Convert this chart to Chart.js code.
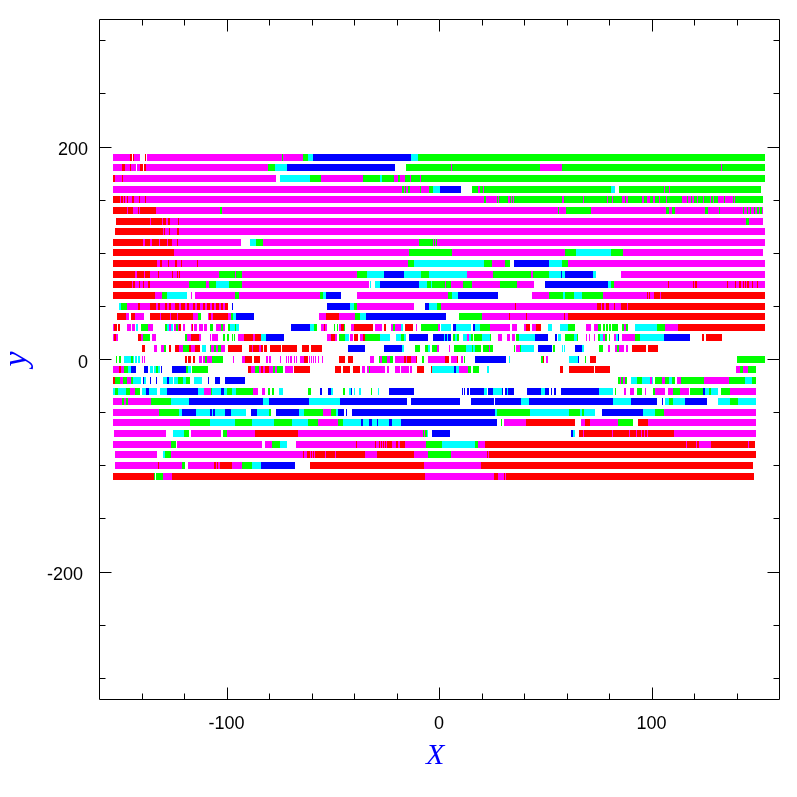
<!DOCTYPE html>
<html>
<head>
<meta charset="utf-8">
<title>X-y strips</title>
<script src="https://cdn.jsdelivr.net/npm/chart.js@4/dist/chart.umd.min.js"></script>
<style>
html, body { margin: 0; padding: 0; background: #fff; }
canvas { display: block; }
</style>
</head>
<body>
<canvas id="chart" width="797" height="797"></canvas>
<script>
// each row: x, category, x, category, ... x  (_ = no data)
const row190 = [-153.4,'M',-145.3,'R',-144.7,'_',-144.2,'R',-143.6,'M',-140.7,'_',-138.4,'R',-137.8,'_',-137.3,'M',-73.9,'G',-73.4,'M',-64,'G',-61.6,'C',-59.2,'B',-13.2,'C',-9.9,'G',153.4];
const row180 = [-153.4,'M',-149.2,'R',-147.9,'M',-145.4,'R',-145,'M',-142.6,'_',-142.1,'M',-140.7,'R',-139.3,'_',-138.8,'R',-137.9,'M',-80.3,'G',-77.2,'C',-71.6,'B',-20.7,'_',-15.6,'G',5.6,'M',6.1,'G',47.5,'M',57.9,'G',132.7,'M',133.2,'G',153.4];
const row170 = [-153.4,'R',-152.5,'M',-149.2,'R',-148.7,'M',-76.7,'_',-74.8,'C',-60.7,'G',-55.6,'M',-35.8,'G',-27.8,'C',-26.8,'G',-21.2,'M',-19.3,'G',-18.4,'M',-16,'G',-13.7,'M',-13.2,'G',-9,'M',-8.5,'G',153.4];
const row160 = [-153.4,'M',-17.6,'G',-16.7,'M',-16,'G',-15.5,'M',-14.8,'G',-13.8,'M',-9,'G',-8.5,'M',-4.7,'G',-2.8,'C',0.5,'B',10.4,'_',15.5,'G',18.5,'M',19.3,'G',20.7,'M',21.3,'G',81,'C',82.8,'_',84.7,'G',105.9,'M',106.4,'G',108.2,'M',108.7,'G',151.5];
const row150 = [-153.4,'R',-150.1,'M',-149.7,'R',-148.7,'M',-148.3,'R',-147.8,'M',-146.8,'R',-146.4,'M',-144.5,'R',-143.5,'M',-141.2,'R',-140.7,'M',-138.4,'R',-137.9,'M',21.3,'G',22.3,'M',27.1,'G',27.6,'M',28.2,'G',32.6,'M',33.4,'G',33.9,'M',34.4,'G',34.8,'M',35.3,'G',57.9,'M',58.8,'G',67.8,'M',68.2,'G',79,'M',79.5,'G',81.4,'M',81.9,'G',86.1,'M',87.5,'G',88,'M',89,'G',95.5,'M',96.5,'G',97.9,'M',99.3,'G',100.7,'M',101.6,'G',103.5,'M',104,'G',106.8,'M',107.3,'G',114.4,'M',116.7,'G',117.3,'M',118.6,'G',119,'M',120,'G',121.4,'M',121.9,'G',124.2,'M',124.7,'G',127.5,'M',128,'G',129,'M',129.4,'G',131.3,'M',134.1,'G',134.6,'M',138.4,'G',138.8,'M',139.2,'G',152.5];
const row140 = [-153.4,'R',-146.8,'M',-146.4,'R',-144,'M',-141.7,'R',-141.2,'M',-140.7,'R',-133.2,'M',-103.1,'G',-102.1,'M',56,'G',56.5,'M',59.8,'G',71.5,'M',106.8,'G',108.2,'M',109.6,'G',111,'M',125.2,'G',126.7,'M',131.8,'G',132.2,'M',143.1,'G',143.5,'M',145,'G',145.4,'M',146.4,'G',146.8,'M',148.2,'G',148.7,'M',149.6,'G',150.6,'M',151,'G',152,'M',152.5];
const row130 = [-152,'R',-136,'M',-135.6,'R',-130.4,'M',-129.9,'R',-128.5,'M',-127.6,'R',-126.6,'M',-122.9,'R',-122.4,'M',144.5,'G',145.9,'M',152.5];
const row120 = [-152.5,'R',-129.9,'M',-129.4,'R',-129,'M',-127.1,'R',-126.6,'M',-123.3,'R',-122.4,'M',153.4];
const row110 = [-153.4,'R',-139.3,'M',-138.4,'R',-136,'M',-135,'R',-131.8,'M',-131.3,'R',-128,'M',-127.5,'R',-125.6,'M',-125.2,'R',-125.2,'M',-123.3,'R',-122.8,'M',-93.2,'_',-89,'C',-86.1,'G',-82.8,'M',-9.4,'G',-2.8,'M',-2.4,'G',-1.9,'M',-1.4,'G',-0.9,'M',153.4];
const row100 = [-153.4,'R',-124.7,'M',-14.1,'G',6.1,'M',59.3,'G',64.5,'C',81,'G',86.6,'M',152.5];
const row90 = [-153.4,'R',-132.7,'M',-131.3,'R',-130.4,'M',-127.6,'R',-127.1,'M',-124.3,'R',-123.3,'M',-121.4,'R',-121,'M',-113.9,'R',-113.4,'M',-14.6,'G',-11.8,'C',21.2,'G',25,'M',31.1,'G',33.6,'_',35.3,'B',51.8,'C',57.9,'G',60.7,'M',153.4];
const row80 = [-153.4,'R',-143,'M',-142.1,'R',-138.8,'M',-138.4,'R',-136,'M',-132.3,'R',-131.8,'M',-125.7,'R',-125.2,'M',-123.3,'R',-122.8,'M',-122.4,'R',-121.9,'M',-103.6,'G',-96,'M',-95.6,'G',-92.7,'M',-38.6,'G',-33.9,'C',-25.9,'B',-16.5,'C',-8.5,'G',-4.7,'C',13.2,'M',25.4,'G',43.3,'M',44.2,'G',51.8,'C',57.4,'B',57.9,'C',59.3,'B',72.5,'C',73.9,'_',85.7,'M',153.4];
const row70 = [-153.4,'R',-144.5,'M',-144,'R',-143,'M',-141.2,'R',-140.7,'M',-139.3,'R',-138.8,'M',-136.9,'R',-136,'M',-117.7,'G',-109.7,'M',-108.3,'G',-105,'C',-98.8,'G',-92.7,'M',-33,'_',-32.5,'C',-32,'_',-30.1,'C',-27.8,'B',-9.4,'C',-5.7,'G',-3.8,'C',-3.3,'G',2.8,'M',3.3,'G',5.6,'M',11.3,'G',15.5,'M',28.7,'G',36.7,'M',44.7,'_',49.9,'B',79.5,'C',81,'G',82.4,'M',107.8,'R',108.2,'M',119.5,'R',120,'M',120.5,'R',121.4,'M',135.5,'R',136,'M',139.3,'R',139.8,'M',141.2,'R',142.1,'M',143.1,'R',143.5,'M',144,'R',144.5,'M',145,'R',145.9,'M',147.3,'R',147.8,'M',149.6,'R',150.1,'M',153.4];
const row60 = [-153.4,'R',-133.7,'M',-130.4,'G',-128,'C',-118.6,'_',-116.7,'M',-116.3,'_',-114.8,'M',-96,'G',-94.1,'M',-56,'G',-54.6,'C',-53.2,'B',-46.1,'_',-38.6,'M',4.4,'G',6.1,'C',8.9,'B',27.8,'_',43.8,'M',51.8,'G',58.4,'C',59.3,'G',63.5,'C',67.3,'G',77.2,'M',97.9,'R',98.4,'M',98.8,'R',99.3,'M',101.2,'R',104,'M',104.5,'R',153.4];
const row50 = [-150.6,'C',-149.7,'G',-146.8,'M',-141.7,'R',-140.7,'M',-136,'R',-133.2,'M',-132.3,'R',-131.3,'M',-129,'R',-128,'M',-127.1,'R',-126.1,'M',-124.3,'R',-122.4,'M',-121.4,'R',-119.6,'M',-118.6,'R',-117.7,'M',-115.8,'R',-114.8,'M',-113.9,'R',-112.5,'M',-111.1,'R',-110.1,'M',-109.2,'R',-107.8,'M',-106.8,'R',-105.9,'M',-105,'R',-103.6,'M',-102.6,'R',-101.7,'M',-100.7,'R',-99.3,'_',-97.4,'B',-97,'_',-52.7,'B',-41.9,'C',-40,'G',-38.6,'M',-11.8,'_',-6.6,'B',-4.7,'C',-0.9,'G',0.9,'M',35.8,'R',36.2,'M',74.3,'R',76.2,'M',76.7,'R',77.6,'M',78.6,'R',80,'M',82.4,'R',82.8,'M',85.6,'R',88.5,'M',88.9,'R',153.4];
const row40 = [-151.6,'R',-147.3,'M',-145.9,'_',-145,'R',-143.1,'M',-138.8,'_',-136,'R',-131.3,'M',-130.9,'R',-126.6,'M',-126.1,'R',-123.5,'M',-123,'R',-115.8,'M',-113.4,'G',-112,'_',-108.7,'M',-108.3,'R',-107.3,'M',-106.4,'R',-99.3,'M',-97.9,'G',-97,'C',-95.6,'B',-87.1,'_',-56.5,'M',-53.2,'R',-47.1,'M',-39.6,'G',-37.2,'C',-34.4,'B',3.3,'_',9.4,'G',20.2,'M',33,'R',33.4,'M',40.9,'R',41.4,'M',58.8,'R',59.3,'M',60.7,'R',153.4];
const row30 = [-153.4,'M',-153,'R',-151.6,'_',-151.1,'R',-150.1,'_',-146.8,'M',-145,'_',-144.5,'M',-143.1,'_',-142.6,'C',-141.7,'_',-140.2,'G',-136.9,'M',-134.6,'_',-129,'G',-128,'C',-127.1,'M',-126.1,'C',-125.2,'_',-124.7,'M',-123.8,'G',-122.8,'M',-122.4,'R',-121.4,'_',-120.5,'M',-119.6,'_',-116.7,'M',-116.3,'R',-115.8,'_',-115.3,'M',-113.9,'_',-113,'M',-111.1,'_',-110.6,'M',-109.2,'_',-107.8,'G',-106.4,'_',-105,'M',-102.6,'G',-101.7,'M',-100.7,'_',-99.3,'G',-98.4,'C',-96,'G',-95.5,'C',-94.1,'_',-69.7,'B',-60.7,'C',-58.8,'G',-57.4,'_',-55.6,'M',-54.2,'R',-53.7,'M',-52.7,'_',-49.4,'G',-48.9,'_',-48,'G',-47.5,'_',-47,'M',-46.1,'R',-44.7,'G',-44.2,'_',-41.4,'M',-40,'R',-31,'_',-30.1,'M',-26.8,'_',-25.9,'R',-24.9,'_',-22.6,'M',-21.7,'G',-20.7,'M',-17.9,'C',-17,'_',-16,'R',-12.3,'_',-10.8,'M',-10.4,'_',-8.5,'G',-0.5,'M',0.5,'_',1,'C',5.6,'_',6.6,'B',8,'C',15,'_',16,'B',17,'C',19.3,'G',24,'M',33.4,'_',34.4,'M',36.7,'_',40,'M',40.9,'R',42.8,'_',43.8,'M',45.6,'R',48,'_',51.3,'C',53.2,'_',57,'C',60.7,'G',64,'_',69.2,'M',71.5,'_',73,'M',74.8,'G',76.2,'_',77.2,'G',78.1,'_',78.6,'G',79.5,'_',80,'G',81,'_',81.4,'G',84.2,'_',86.1,'G',87,'M',88,'G',89,'_',92.2,'C',102.6,'G',106.3,'M',112.5,'R',153.4];
const row20 = [-153.4,'M',-153,'R',-152,'M',-151.1,'_',-141.7,'R',-140.2,'M',-139.3,'G',-137.4,'G',-136,'_',-135,'M',-133.2,'_',-119.6,'G',-118.6,'M',-116.7,'R',-113,'M',-112,'_',-107.8,'M',-107.3,'_',-106.8,'M',-104,'_',-101.7,'G',-100.7,'_',-99.8,'G',-98.8,'_',-97.4,'G',-97,'_',-96.5,'G',-96,'_',-94.6,'M',-91.8,'R',-87.6,'M',-86.6,'R',-83.8,'C',-81.4,'B',-73,'_',-52.7,'M',-50.8,'R',-48.9,'M',-48,'_',-47,'G',-46.1,'G',-44.2,'C',-42.4,'_',-41.9,'M',-40.5,'_',-40,'R',-38.1,'_',-37.2,'M',-35.8,'R',-34.8,'G',-33,'G',-29.7,'G',-27.8,'C',-23.1,'_',-20.3,'C',-17.9,'G',-16.5,'C',-15.6,'_',-14.1,'B',-5.2,'_',-2.8,'B',2.3,'C',2.8,'B',3.8,'C',4.2,'B',5.6,'_',6.6,'G',7.5,'C',8.5,'G',9.4,'_',11.3,'C',13.2,'M',14.1,'C',15,'G',16,'_',16.5,'G',20.2,'C',24,'G',24.5,'_',27.9,'M',29.6,'_',32,'M',33.4,'_',34.4,'M',35.8,'_',36.2,'G',37.6,'C',45.2,'B',51.3,'_',54.6,'B',55.5,'_',56,'C',57.4,'_',59.3,'G',63.5,'C',65,'G',65.5,'_',69.2,'M',69.7,'_',70.6,'M',71,'_',73,'M',73.4,'_',74.8,'G',75.8,'C',77.2,'M',78.1,'G',79,'_',80,'G',80.5,'_',82.4,'M',83.3,'C',84.2,'B',84.7,'_',86.1,'M',92.2,'G',94.6,'C',105.9,'B',118.1,'_',123.8,'R',124.7,'_',125.6,'R',133.2];
const row10 = [-139.8,'R',-138.4,'_',-134.1,'M',-132.7,'_',-130.9,'M',-129.4,'G',-128.5,'_',-127.1,'R',-126.1,'_',-124.3,'R',-122.4,'M',-120.5,'G',-117.7,'R',-116.7,'M',-114.8,'R',-112.5,'_',-111.5,'C',-109.7,'_',-107.8,'G',-107.3,'M',-105.9,'G',-105,'M',-104,'G',-102.6,'M',-100.7,'_',-99.3,'R',-92.7,'_',-89.4,'R',-88,'M',-87.5,'R',-84.7,'M',-83.8,'R',-82.8,'_',-82.4,'R',-81,'_',-79.6,'R',-74.4,'_',-73.9,'R',-66.9,'_',-64.5,'R',-61.2,'_',-60.3,'R',-55.1,'_',-42.9,'B',-34.8,'_',-25.9,'B',-17.4,'C',-16.5,'_',-11.3,'G',-9,'_',-6.6,'G',-5.2,'C',-4.3,'_',-3.3,'G',-0.9,'M',0,'_',4.7,'M',5.2,'_',7,'G',12.7,'C',15.5,'G',16,'C',17,'G',19.8,'_',20.7,'G',23.5,'M',24,'G',25.4,'_',35.3,'G',35.8,'_',36.2,'M',38.1,'G',38.6,'C',44.7,'_',46.6,'B',53.2,'_',53.6,'G',54.6,'_',57.9,'C',58.4,'_',58.8,'C',59.3,'_',64,'B',67.3,'C',68.2,'_',75.3,'G',77.2,'_',79.5,'M',80.5,'_',82.8,'M',83.8,'G',84.7,'M',87,'_',88,'M',88.9,'_',90.8,'R',97.4,'_',98.4,'R',103];
const row0 = [-152,'G',-151.6,'_',-150.6,'G',-149.7,'_',-148.3,'C',-145,'G',-144,'C',-143.6,'_',-143.1,'C',-142.1,'_',-141.7,'C',-140.7,'_',-139.8,'M',-139.3,'_',-138.8,'M',-138.4,'_',-119.6,'R',-118.6,'_',-118.1,'R',-116.7,'_',-115.8,'R',-114.8,'_',-113,'M',-111.5,'_',-111.1,'M',-110.1,'G',-109.2,'M',-106.8,'G',-101.7,'_',-97,'M',-96.5,'_',-92.7,'M',-91.3,'R',-88,'_',-87.1,'R',-84.3,'_',-81.4,'M',-80.5,'_',-80,'M',-79,'_',-74.8,'M',-74.4,'_',-72,'M',-71.6,'_',-71.1,'M',-70.6,'_',-70.2,'M',-69.2,'_',-68.3,'M',-67.8,'_',-67.3,'M',-66.9,'_',-65.4,'M',-63.6,'R',-61.7,'_',-61.2,'M',-60.7,'_',-60.3,'M',-59.8,'_',-59.3,'M',-58.8,'_',-58.4,'M',-57.9,'_',-57,'M',-56.5,'_',-55.1,'M',-54.6,'_',-47,'R',-44.2,'_',-42.9,'R',-40.5,'_',-32.5,'M',-30.6,'_',-28.2,'G',-27.8,'M',-26.8,'G',-24.5,'M',-23.1,'G',-21.7,'_',-20.7,'M',-16.5,'R',-15.6,'M',-15.1,'R',-13.2,'M',-10.8,'R',-10.4,'_',-8,'G',-7.1,'_',-5.2,'M',2.8,'R',4.7,'_',5.6,'M',8.5,'R',8.9,'_',10.4,'M',11.3,'_',11.8,'G',12.2,'_',17,'B',31.5,'_',32.9,'C',33.4,'_',48,'G',49,'R',49.4,'_',50.4,'M',51.3,'_',61.2,'C',65.4,'B',65.9,'_',68.7,'G',69.2,'_',71,'R',73.9,'_',140.2,'G',153.4];
const rowm10 = [-153.4,'M',-150.6,'R',-149.7,'M',-148.3,'G',-146.4,'C',-145,'B',-142.6,'_',-138.8,'B',-136.9,'_',-136,'C',-134.6,'_',-134.1,'C',-133.2,'G',-132.3,'C',-131.3,'_',-130.9,'B',-130.4,'_',-125.7,'B',-119,'G',-118.1,'C',-116.7,'_',-116.3,'G',-108.7,'_',-89.9,'R',-88.5,'M',-86.6,'G',-84.7,'M',-83.8,'R',-82.8,'M',-81.9,'R',-80,'M',-78.1,'G',-77.2,'M',-76.3,'G',-73.4,'_',-72.5,'M',-68.8,'_',-68.3,'R',-60.7,'_',-48.9,'R',-46.1,'_',-45.2,'R',-41.9,'_',-40.5,'R',-37.2,'_',-36.3,'M',-34.8,'_',-33.9,'M',-33,'G',-32.5,'M',-25.4,'_',-24.5,'M',-23.6,'_',-20.7,'M',-18.4,'_',-17.9,'M',-14.1,'_',-13.7,'M',-12.7,'_',-10.4,'R',-7.1,'_',-3.8,'R',-3.3,'C',7,'B',8,'C',9.4,'M',13.6,'G',15,'_',16,'G',18.8,'_',22.6,'C',23.5,'_',57,'R',58.4,'_',61.2,'R',73,'_',73.4,'R',80.5,'_',139.8,'M',141.7,'G',143,'M',145.4,'G',149.2];
const rowm20 = [-153.4,'R',-152.5,'G',-150.1,'M',-148.7,'G',-146.8,'M',-145,'G',-144,'C',-140.2,'_',-139.3,'B',-138.8,'C',-137.9,'_',-136,'B',-135.6,'_',-133.2,'B',-132.7,'_',-129.9,'C',-128,'B',-127.1,'C',-125.2,'_',-124.7,'C',-122.8,'G',-120.5,'C',-119,'G',-117.2,'_',-115.3,'C',-111.5,'_',-108.7,'B',-108.3,'_',-105.4,'B',-103.1,'_',-100.7,'B',-91.3,'_',84.2,'G',85.2,'M',85.6,'G',86.6,'M',87.5,'G',88.5,'_',90.3,'C',93.2,'G',95.5,'C',99.3,'M',100,'C',100.7,'_',101.6,'G',104.9,'M',106.3,'G',108.2,'C',109.6,'G',111,'_',112,'M',113.9,'G',124.7,'M',136.5,'G',144,'C',147.3,'G',149.2];
const rowm30 = [-153.4,'C',-152.5,'G',-151,'C',-147.3,'G',-145.4,'M',-143.1,'G',-140.7,'_',-139.8,'C',-137.9,'B',-136.5,'C',-134.1,'_',-134.1,'C',-132.7,'_',-131.3,'C',-128,'B',-113.4,'C',-110.6,'M',-107.3,'G',-106.8,'C',-102.6,'B',-101.2,'C',-99.8,'G',-97.4,'C',-95.6,'G',-93.2,'G',-87.6,'M',-85.2,'_',-83.3,'M',-81.9,'_',-80.5,'G',-79.6,'_',-78.6,'G',-77.7,'_',-75.3,'C',-73.4,'_',-61.7,'G',-60.3,'_',-56,'B',-55.1,'_',-52.3,'B',-50.8,'C',-49.9,'_',-45.2,'G',-44.3,'_',-42.4,'C',-41.4,'B',-41,'_',-40,'C',-39.6,'_',-37.7,'C',-36.7,'_',-32,'G',-31.5,'_',-28.7,'C',-28.2,'_',-23.6,'B',-11.8,'_',10.8,'B',11.3,'_',11.8,'B',12.2,'_',13.2,'B',14.1,'_',14.6,'B',21.2,'C',22.6,'_',23,'B',25.4,'C',29.6,'B',30.1,'_',31,'B',32,'C',32.5,'B',35.3,'_',41.4,'B',48,'C',49.9,'B',51.8,'_',52.7,'B',53.2,'_',54.1,'B',55,'_',57.4,'B',75.3,'C',81.9,'_',82.8,'G',83.3,'_',87,'M',88,'_',89.9,'M',91.8,'_',93.2,'G',95.5,'_',97,'M',97.4,'_',100.7,'G',101.6,'M',106.3,'_',107.8,'M',110.1,'G',113.4,'M',117.6,'_',118.1,'G',124.2,'B',125.2,'C',127,'G',128,'C',131.3,'_',132.7,'G',137,'M',149.2];
const rowm40 = [-153.4,'M',-149.2,'G',-148.3,'M',-147.3,'G',-146.4,'M',-135.6,'G',-126.1,'C',-117.7,'B',-82.8,'C',-80,'B',-61.2,'C',-46.6,'B',-15.1,'_',-13.2,'B',9.9,'_',15,'B',25.9,'_',26.4,'B',38.6,'C',42.4,'B',81.9,'C',90.3,'B',102.6,'_',105,'B',105.4,'_',106.3,'C',108.2,'G',110.1,'C',115.8,'B',126.1,'_',131.3,'C',137,'G',140.7,'C',149.2];
const rowm50 = [-153.4,'M',-131.8,'G',-122.4,'C',-121,'B',-114.4,'C',-107.8,'B',-106.8,'C',-106.4,'B',-105.4,'C',-100.7,'B',-97.9,'C',-90.8,'_',-88.5,'B',-85.7,'C',-80,'G',-79.1,'_',-76.7,'B',-65.9,'C',-63.5,'G',-54.6,'M',-50.8,'G',-48.5,'C',-47.5,'B',-44.7,'_',-43.8,'B',-43.3,'_',-41,'B',26.4,'C',27.3,'G',42.8,'C',61.2,'G',66.3,'C',67.3,'G',68.2,'C',73.4,'_',76.7,'B',96,'C',101.6,'G',105.9,'M',149.2];
const rowm60 = [-153.4,'M',-117.2,'G',-107.8,'C',-96,'G',-88,'C',-77.7,'G',-69.2,'C',-61.7,'G',-57,'M',-47.5,'G',-45.2,'C',-36.7,'B',-35.8,'C',-33,'B',-31.5,'C',-29.2,'B',-28.7,'C',-23.6,'B',-22.2,'C',-17.9,'B',27.3,'_',29.2,'G',29.6,'_',30.6,'M',41,'R',64,'_',66.8,'M',68.7,'R',71,'M',84.2,'G',91.3,'_',93.7,'R',98.4,'M',149.2];
const rowm70 = [-153,'M',-128.5,'_',-125.2,'C',-120,'G',-117.7,'_',-116.7,'M',-102.6,'_',-101.7,'G',-99.8,'M',-86.6,'R',-66.4,'M',-7.6,'G',-7.1,'M',-6.6,'G',-5.7,'C',-5.2,'_',-3.3,'B',5.2,'_',62.1,'B',63,'C',64,'_',65.9,'R',67.8,'M',68.2,'R',81.4,'M',81.9,'R',89.4,'M',89.9,'R',92.7,'M',93.2,'R',95,'M',95.5,'R',96.5,'M',97,'R',97.9,'M',98.4,'R',110.6,'M',149.2];
const rowm80 = [-153.4,'M',-126.1,'G',-123.8,'_',-123.3,'M',-83.3,'_',-81.9,'M',-78.6,'G',-74.8,'C',-71.6,'_',-67.3,'M',-39,'R',-38.6,'M',-30.1,'R',-29.7,'M',-28.2,'R',-27.8,'M',-27.3,'R',-26.8,'M',-26.4,'R',-25.9,'M',-25.4,'R',-25,'M',-24.5,'R',-22.2,'M',-20.3,'R',-19.3,'M',-18.4,'R',-16,'M',-6.1,'G',1.4,'C',17,'G',18.4,'M',21.7,'R',116.2,'M',116.7,'R',121,'M',121.4,'R',122.4,'M',128,'R',145.4,'M',145.9,'R',148.7];
const rowm90 = [-152.5,'M',-132.7,'_',-129.9,'C',-129,'G',-126.1,'M',-64,'R',-63.5,'M',-62.1,'R',-60.7,'M',-60.3,'R',-59.8,'M',-59.3,'R',-58.8,'M',-58.4,'R',-53.7,'M',-53.2,'R',-48.9,'M',-48.5,'R',-34.8,'M',-29.2,'R',-11.8,'M',-5.2,'G',5.6,'M',22.6,'R',23,'M',23.5,'R',149.2];
const rowm100 = [-152.5,'M',-132.3,'R',-131.8,'M',-121,'G',-119.6,'_',-118.1,'M',-105.9,'R',-105,'M',-104.5,'R',-104,'M',-103.1,'R',-97.4,'M',-92.7,'G',-88,'C',-83.8,'B',-67.8,'_',-60.7,'R',-7.1,'M',19.8,'R',147.8];
const rowm110 = [-153.4,'R',-134.1,'G',-133.7,'_',-133.2,'G',-129.9,'M',-125.7,'R',-6.6,'M',25.9,'R',27.8,'M',30.6,'R',31,'M',31.5,'R',148.2];

const rowValues = [190,180,170,160,150,140,130,120,110,100,90,80,70,60,50,40,30,20,10,0,-10,-20,-30,-40,-50,-60,-70,-80,-90,-100,-110];
const rowStrips = [row190,row180,row170,row160,row150,row140,row130,row120,row110,row100,row90,row80,row70,row60,row50,row40,row30,row20,row10,row0,rowm10,rowm20,rowm30,rowm40,rowm50,rowm60,rowm70,rowm80,rowm90,rowm100,rowm110];

const categories = ['M', 'R', 'G', 'C', 'B'];
const categoryColors = { M: '#ff00ff', R: '#ff0000', G: '#00ff00', C: '#00ffff', B: '#0000ff' };

const xLabelTicks = [-100, 0, 100];
const yLabelTicks = [-200, 0, 200];
const xMinorTicks = [-140, -120, -80, -60, -40, -20, 20, 40, 60, 80, 120, 140];
const yMinorTicks = [-300, -250, -150, -100, -50, 50, 100, 150, 250, 300];

function buildDataset(cat) {
    const points = [];
    rowStrips.forEach(function (strip, r) {
        for (let i = 1; i < strip.length; i += 2) {
            if (strip[i] !== cat) continue;
            points.push({ x: strip[i - 1], y: rowValues[r] });
            points.push({ x: strip[i + 1], y: rowValues[r] });
            points.push({ x: strip[i + 1], y: null });
        }
    });
    return {
        label: cat,
        data: points,
        showLine: true,
        spanGaps: false,
        borderColor: categoryColors[cat],
        borderWidth: 7,
        borderCapStyle: 'butt',
        pointRadius: 0,
        tension: 0
    };
}

// the reference is a raster plot, so keep strip edges on whole pixels
const pixelSnap = {
    id: 'pixelSnap',
    beforeDatasetsDraw: function (chart) {
        chart.getSortedVisibleDatasetMetas().forEach(function (meta) {
            meta.data.forEach(function (p) {
                p.x = Math.round(p.x);
                p.y = Math.round(p.y - 0.3) + 0.5;
            });
        });
    }
};

// frame and inward ticks on all four sides
const frameTicks = {
    id: 'frameTicks',
    afterDraw: function (chart) {
        const a = chart.chartArea, ctx = chart.ctx;
        const sx = chart.scales.x, sy = chart.scales.y;
        const L = a.left + 0.5, R = a.right + 0.5, T = a.top + 0.5, B = a.bottom + 0.5;
        ctx.save();
        ctx.strokeStyle = '#000';
        ctx.lineWidth = 1;
        ctx.beginPath();
        ctx.rect(L, T, R - L, B - T);
        function xTick(v, len) {
            const p = Math.round(sx.getPixelForValue(v)) + 0.5;
            ctx.moveTo(p, T); ctx.lineTo(p, T + len);
            ctx.moveTo(p, B); ctx.lineTo(p, B - len);
        }
        function yTick(v, len) {
            const p = Math.round(sy.getPixelForValue(v)) + 0.5;
            ctx.moveTo(L, p); ctx.lineTo(L + len, p);
            ctx.moveTo(R, p); ctx.lineTo(R - len, p);
        }
        xLabelTicks.forEach(function (v) { xTick(v, 12); });
        xMinorTicks.forEach(function (v) { xTick(v, 6); });
        yLabelTicks.forEach(function (v) { yTick(v, 12); });
        yMinorTicks.forEach(function (v) { yTick(v, 6); });
        ctx.stroke();
        ctx.restore();
    }
};

const tickFont = { family: '"Liberation Sans"', size: 18 };

new Chart(document.getElementById('chart'), {
    type: 'scatter',
    data: { datasets: categories.map(buildDataset) },
    plugins: [pixelSnap, frameTicks],
    options: {
        responsive: false,
        animation: false,
        events: [],
        layout: { padding: { left: 0, top: 19, right: 18, bottom: 0 } },
        plugins: { legend: { display: false }, tooltip: { enabled: false } },
        scales: {
            x: {
                type: 'linear',
                min: -160,
                max: 160,
                afterBuildTicks: function (s) { s.ticks = xLabelTicks.map(function (v) { return { value: v }; }); },
                afterFit: function (s) { s.height = 98; s.paddingLeft = 0; s.paddingRight = 0; },
                border: { display: false },
                grid: { display: false, drawTicks: false },
                ticks: { font: tickFont, color: '#000', padding: 14, autoSkip: false, maxRotation: 0 },
                title: { display: true, text: 'X ', color: '#0000ff', font: { family: '"Liberation Serif"', size: 30, style: 'italic' }, padding: { top: 8, bottom: 23 } }
            },
            y: {
                type: 'linear',
                min: -320,
                max: 320,
                afterBuildTicks: function (s) { s.ticks = yLabelTicks.map(function (v) { return { value: v }; }); },
                afterFit: function (s) { s.width = 99; s.paddingTop = 0; s.paddingBottom = 0; },
                border: { display: false },
                grid: { display: false, drawTicks: false },
                ticks: {
                    font: tickFont,
                    color: '#000',
                    padding: 11,
                    autoSkip: false,
                    labelOffset: 4,
                    callback: function (v) { return v < 0 ? v + ' ' : String(v); }
                },
                title: { display: true, text: 'y', color: '#0000ff', font: { family: '"Liberation Serif"', size: 34, style: 'italic', lineHeight: 1 }, padding: { top: 0, bottom: 0 } }
            }
        }
    }
});
</script>
</body>
</html>
